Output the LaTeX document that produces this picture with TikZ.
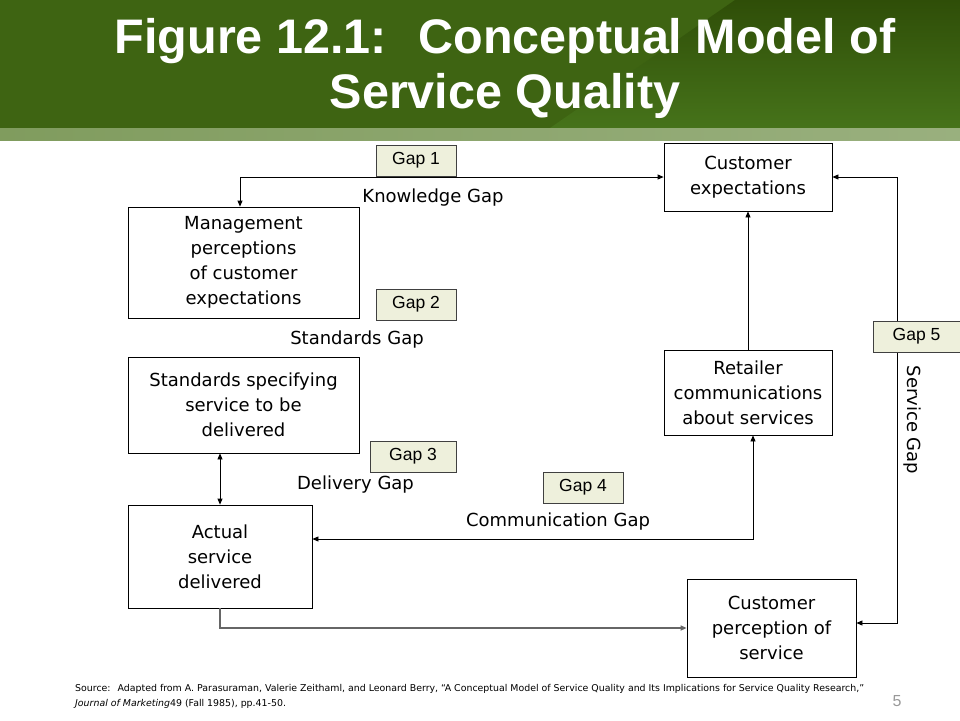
\documentclass[tikz,border=0pt]{standalone}
\usepackage{fontspec}
\setmainfont{DejaVu Sans}
\newfontfamily\arialfont{Liberation Sans}
\usetikzlibrary{arrows.meta}
\definecolor{bandgreen}{HTML}{3E6412}
\definecolor{banddark}{HTML}{2F4E08}
\definecolor{bandlight}{HTML}{46731A}
\definecolor{bandstrip}{HTML}{809C5E}
\definecolor{gapfill}{HTML}{EEF0DC}

\begin{document}
\begin{tikzpicture}[
        x=1pt, y=-1pt,
        >={Triangle[length=6pt,width=5pt]},
        box/.style={draw, line width=0.8pt, align=center, inner sep=0pt,
          font=\fontsize{18}{25}\selectfont},
        gapbox/.style={draw=black!75, fill=gapfill, line width=0.8pt, inner sep=0pt,
          minimum height=31, font=\arialfont\fontsize{17.5}{20}\selectfont},
        gaplabel/.style={inner sep=0pt, font=\fontsize{18}{22}\selectfont},
        title/.style={anchor=base, text=white, font=\arialfont\bfseries\fontsize{48.5}{55}\selectfont},
        link/.style={line width=0.8pt}
      ]

      \useasboundingbox (0,0) rectangle (960,720);
      \fill[bandgreen] (0,0) rectangle (960,128);
      \shade[top color=banddark, bottom color=bandlight] (735,0) -- (960,0) -- (960,128) -- (550,128) -- cycle;
      \shade[left color=bandstrip, right color=bandstrip!80!white] (0,128) rectangle (960,140);

      \node[title] (title1) at (505,53) {Figure 12.1:~ Conceptual Model of};
      \node[title] (title2) at (505,108) {Service Quality};

      \node[box, minimum width=231, minimum height=111] (mgmt) at (243.5,262.5)
          {Management\\perceptions\\of customer\\expectations};
      \node[box, minimum width=231, minimum height=96] (standards) at (243.5,405)
          {Standards specifying\\service to be\\delivered};
      \node[box, minimum width=184, minimum height=103] (actual) at (220,556.5)
          {Actual\\service\\delivered};
      \node[box, minimum width=168, minimum height=68] (expect) at (748,177)
          {Customer\\expectations};
      \node[box, minimum width=168, minimum height=85] (retailer) at (748,392.5)
          {Retailer\\communications\\about services};
      \node[box, minimum width=169, minimum height=98] (perception) at (771.5,628)
          {Customer\\perception of\\service};

      \draw[link, <->] (expect.west) -| ([xshift=-3.5pt]mgmt.north);
      \draw[link, ->] (retailer) -- (expect);
      \draw[link, <->] (actual.north) -- (actual.north |- standards.south);
      \draw[link, <->] ([xshift=5pt]retailer.south) |- ([yshift=17.5pt]actual.east);
      \draw[link, ->, draw=black!60, line width=1.5pt] (actual.south) |- (perception.west);
      \draw[link, <->] (expect.east) -- ++(65,0) |- ([yshift=5pt]perception.east);

      \node[gapbox, minimum width=80] (gap1) at (416,160.5) {Gap 1};
      \node[gapbox, minimum width=80] (gap2) at (416,304.5) {Gap 2};
      \node[gapbox, minimum width=86] (gap3) at (413,456.5) {Gap 3};
      \node[gapbox, minimum width=80] (gap4) at (583,487.5) {Gap 4};
      \node[gapbox, minimum width=87] (gap5) at (916.5,336.5) {Gap 5};

      \node[gaplabel] (knowledge) at (433,198) {Knowledge Gap};
      \node[gaplabel] (stdgap) at (357,340) {Standards Gap};
      \node[gaplabel] (delivery) at (355.5,485) {Delivery Gap};
      \node[gaplabel] (communication) at (558,522) {Communication Gap};
      \node[gaplabel, rotate=-90] (servicegap) at (912,420) {Service Gap};

      \node[anchor=base west, inner sep=0pt, align=left, font=\fontsize{9.4}{15}\selectfont] (source) at (75,706)
          {Source:~ Adapted from A. Parasuraman, Valerie Zeithaml, and Leonard Berry, “A Conceptual Model of Service Quality and Its Implications for Service Quality Research,”\\
           \textit{Journal of Marketing}49 (Fall 1985), pp.41-50.};
      \node[anchor=base, inner sep=0pt, text=black!40, font=\arialfont\fontsize{16}{18}\selectfont] (page) at (897,706) {5};

      \end{tikzpicture}
\end{document}
